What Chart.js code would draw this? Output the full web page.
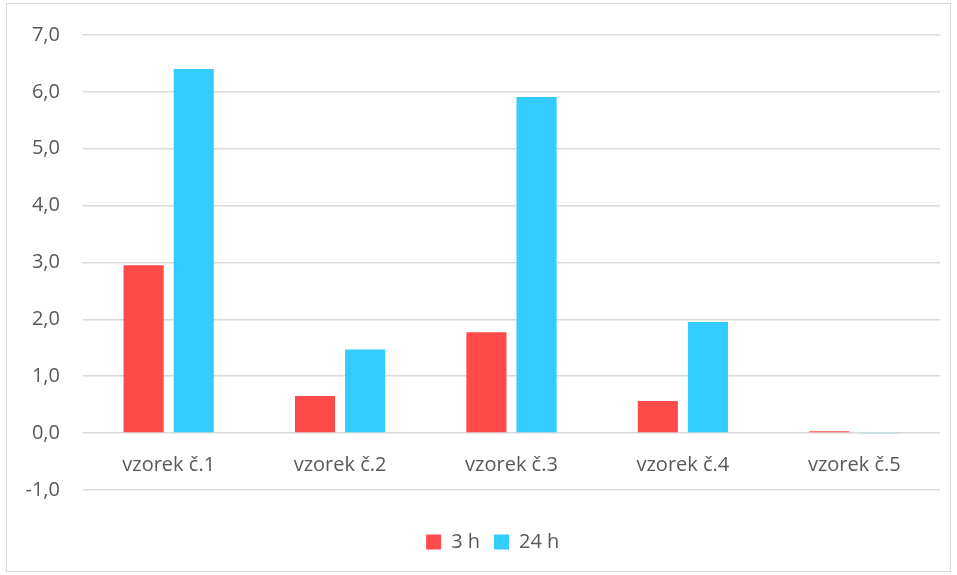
<!DOCTYPE html>
<html>
<head>
<meta charset="utf-8">
<script src="https://cdn.jsdelivr.net/npm/chart.js@4/dist/chart.umd.min.js"></script>
<style>
  html, body { margin: 0; padding: 0; background: #fff; }
  #wrap { width: 957px; height: 575px; position: relative; }
</style>
</head>
<body>
<div id="wrap"><canvas id="graf"></canvas></div>
<script>
const kategorie = ['vzorek č.1', 'vzorek č.2', 'vzorek č.3', 'vzorek č.4', 'vzorek č.5'];
const hodnoty3h = [2.95, 0.65, 1.77, 0.56, 0.03];
const hodnoty24h = [6.40, 1.47, 5.91, 1.95, -0.01];
const nazvySerii = ['3 h', '24 h'];
const barvy = ['#FF4A4A', '#33CCFF'];

const seda = '#595959';
const mrizka = '#d9d9d9';

// ramecek kolem celeho grafu (jako v Excelu) + posun legendy doprava
const ramecek = {
    id: 'ramecek',
    afterLayout(chart) {
        if (chart.legend) {
            chart.legend.left += 21.5;
            chart.legend.right += 21.5;
        }
    },
    beforeDraw(chart) {
        const c = chart.ctx;
        c.save();
        c.fillStyle = '#fff';
        c.fillRect(0, 0, chart.width, chart.height);
        c.strokeStyle = mrizka;
        c.lineWidth = 1;
        c.strokeRect(6.5, 3.5, 944, 568);
        c.restore();
    }
};

Chart.defaults.font.family = '"Open Sans", Lato, sans-serif';
Chart.defaults.font.size = 20;
Chart.defaults.color = seda;

new Chart(document.getElementById('graf'), {
    type: 'bar',
    data: {
        labels: kategorie,
        datasets: [
            { label: nazvySerii[0], data: hodnoty3h, backgroundColor: barvy[0] },
            { label: nazvySerii[1], data: hodnoty24h, backgroundColor: barvy[1] }
        ]
    },
    options: {
        responsive: true,
        maintainAspectRatio: false,
        animation: false,
        datasets: { bar: { categoryPercentage: 0.585, barPercentage: 0.8 } },
        layout: { padding: { left: 2.5, right: 17, top: 27, bottom: 13 } },
        scales: {
            x: {
                position: { y: 0 },
                grid: { display: false, drawTicks: false },
                border: { display: false },
                ticks: { padding: 20 }
            },
            y: {
                min: -1,
                max: 7,
                ticks: {
                    stepSize: 1,
                    padding: 23,
                    callback: v => v.toFixed(1).replace('.', ',')
                },
                grid: { color: mrizka, lineWidth: 1.5, drawTicks: false },
                border: { display: false }
            }
        },
        plugins: {
            legend: {
                position: 'bottom',
                title: { display: true, text: ' ', font: { size: 1 }, padding: { top: 27, bottom: 0 } },
                labels: { boxWidth: 15, boxHeight: 15, padding: 14 }
            },
            tooltip: { enabled: false }
        }
    },
    plugins: [ramecek]
});
</script>
</body>
</html>
